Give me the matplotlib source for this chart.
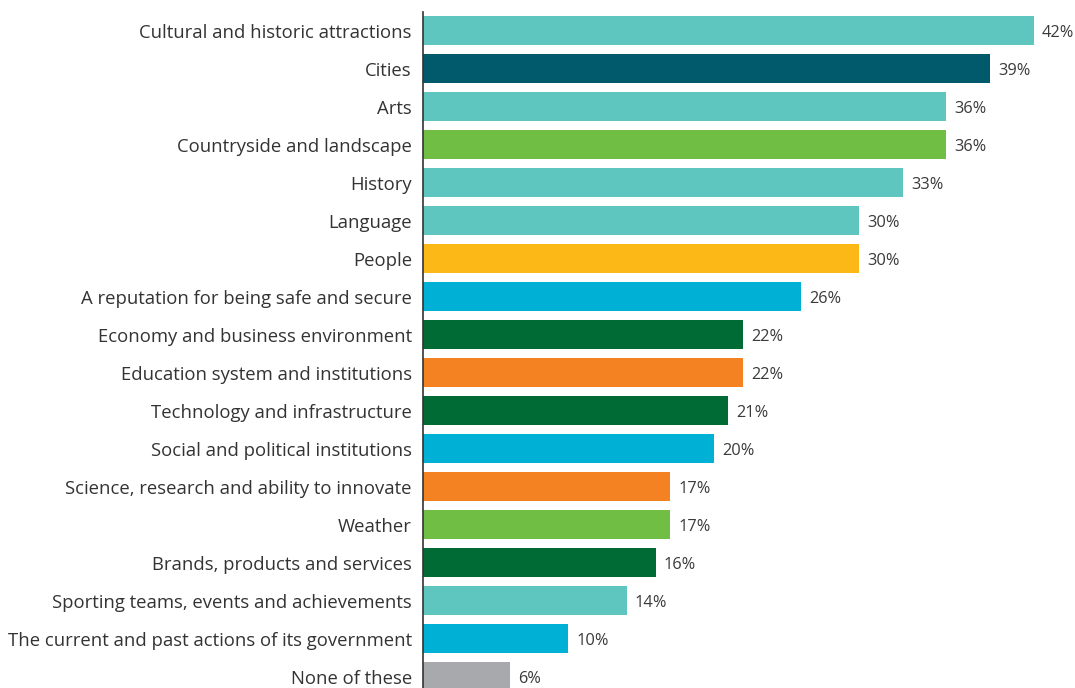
import matplotlib
import matplotlib.pyplot as plt

matplotlib.use("Agg")

categories = [
    "Cultural and historic attractions",
    "Cities",
    "Arts",
    "Countryside and landscape",
    "History",
    "Language",
    "People",
    "A reputation for being safe and secure",
    "Economy and business environment",
    "Education system and institutions",
    "Technology and infrastructure",
    "Social and political institutions",
    "Science, research and ability to innovate",
    "Weather",
    "Brands, products and services",
    "Sporting teams, events and achievements",
    "The current and past actions of its government",
    "None of these",
]
values = [42, 39, 36, 36, 33, 30, 30, 26, 22, 22, 21, 20, 17, 17, 16, 14, 10, 6]

TEAL = "#5ec6be"
DARK_TEAL = "#005a6b"
GREEN = "#70bf44"
YELLOW = "#fbb817"
BLUE = "#00b0d5"
DARK_GREEN = "#006b35"
ORANGE = "#f48222"
GREY = "#a7a9ac"
colors = [TEAL, DARK_TEAL, TEAL, GREEN, TEAL, TEAL, YELLOW, BLUE, DARK_GREEN,
          ORANGE, DARK_GREEN, BLUE, ORANGE, GREEN, DARK_GREEN, TEAL, BLUE, GREY]

plt.rcParams["font.family"] = ["Open Sans", "DejaVu Sans"]

fig = plt.figure(figsize=(10.75, 6.88), dpi=100)
ax = fig.add_axes([423 / 1075, 0.0, 652 / 1075, 676 / 688])

y = list(range(len(categories)))
ax.barh(y, values, height=0.77, color=colors)
for yi, v in zip(y, values):
    ax.text(v + 0.55, yi + 0.05, f"{v}%", va="center", ha="left", fontsize=11.8, color="#3a3a3a")

ax.set_yticks(y)
ax.set_yticklabels(categories, fontsize=13.3, color="#333333")
ax.tick_params(axis="y", length=0, pad=8)
ax.set_xticks([])
ax.set_xlim(0, 652 / 14.54)
ax.set_ylim(17.3, -0.49)
for side in ["top", "right", "bottom"]:
    ax.spines[side].set_visible(False)
ax.spines["left"].set_color("#333333")
ax.spines["left"].set_linewidth(1.2)

fig.savefig("out.png", dpi=100)
plt.close(fig)
